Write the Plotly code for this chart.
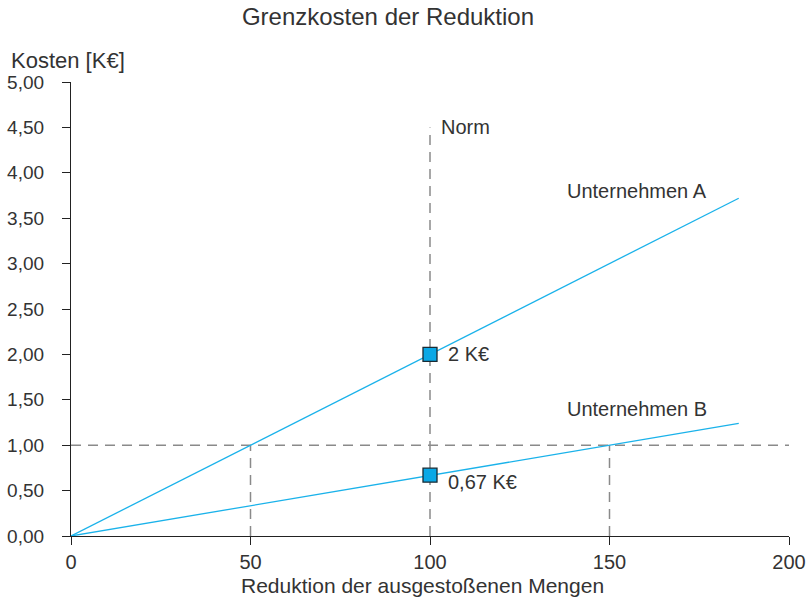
import plotly.graph_objects as go

# Data
x_line = [0, 186]
cost_a = [0, 3.72]
cost_b = [0, 1.24]
norm_x = 100
norm_top = 4.5
target_cost = 1.0
x_at_target = [50, 150]
marker_x = [100, 100]
marker_y = [2.0, 0.67]
marker_labels = ["2 K€", "0,67 K€"]
x_ticks = [0, 50, 100, 150, 200]
y_ticks = [0, 0.5, 1, 1.5, 2, 2.5, 3, 3.5, 4, 4.5, 5]

FONT = "Liberation Sans"
TXT = "#333333"
BLUE = "#1ab2ea"
DASH = "#8a8a8a"

fig = go.Figure()

dash_style = dict(color=DASH, width=1.5, dash="10px,7px")
fig.add_trace(go.Scatter(x=[0, 200], y=[target_cost, target_cost], mode="lines",
                         line=dash_style, hoverinfo="skip"))
fig.add_trace(go.Scatter(x=[norm_x, norm_x], y=[0, norm_top], mode="lines",
                         line=dash_style, hoverinfo="skip"))
for xv in x_at_target:
    fig.add_trace(go.Scatter(x=[xv, xv], y=[0, target_cost], mode="lines",
                             line=dash_style, hoverinfo="skip"))

fig.add_trace(go.Scatter(x=x_line, y=cost_a, mode="lines", line=dict(color=BLUE, width=1.3)))
fig.add_trace(go.Scatter(x=x_line, y=cost_b, mode="lines", line=dict(color=BLUE, width=1.3)))

fig.add_trace(go.Scatter(x=marker_x, y=marker_y, mode="markers",
                         marker=dict(symbol="square", size=14, color="#0aa8e6",
                                     line=dict(color="#1a2a33", width=1.3))))

FS = 20
ann_font = dict(family=FONT, size=FS, color=TXT)
annotations = [
    dict(x=norm_x + 2.5, y=norm_top, text="Norm", showarrow=False, xanchor="left",
         yanchor="middle", font=ann_font),
    dict(x=137.5, y=3.80, text="Unternehmen A", showarrow=False, xanchor="left",
         yanchor="middle", font=ann_font),
    dict(x=137.5, y=1.40, text="Unternehmen B", showarrow=False, xanchor="left",
         yanchor="middle", font=ann_font),
    dict(x=marker_x[0] + 4.5, y=marker_y[0], text=marker_labels[0], showarrow=False,
         xanchor="left", yanchor="middle", font=ann_font),
    dict(x=marker_x[1] + 4.5, y=marker_y[1] - 0.075, text=marker_labels[1], showarrow=False,
         xanchor="left", yanchor="middle", font=ann_font),
    dict(xref="paper", yref="paper", x=-0.086, y=1.048, text="Kosten [K€]", showarrow=False,
         xanchor="left", yanchor="middle", font=dict(family=FONT, size=22, color=TXT)),
    dict(xref="paper", yref="paper", x=0.489, y=-0.110, text="Reduktion der ausgestoßenen Mengen",
         showarrow=False, xanchor="center", yanchor="middle",
         font=dict(family=FONT, size=21, color=TXT)),
]

fig.update_layout(
    width=811, height=599,
    margin=dict(l=71, r=22, t=82, b=63, autoexpand=False),
    paper_bgcolor="white", plot_bgcolor="white",
    showlegend=False,
    separators=",.",
    title=dict(text="Grenzkosten der Reduktion", x=0.4784, xanchor="center", y=0.9716,
               yanchor="middle", font=dict(family=FONT, size=24, color=TXT)),
    font=dict(family=FONT, size=FS, color=TXT),
    annotations=annotations,
)
fig.update_xaxes(range=[0, 200], tickvals=x_ticks, showgrid=False, zeroline=False,
                 automargin=False, ticklabeloverflow="allow",
                 showline=True, linecolor="#222222", linewidth=1.3,
                 ticks="outside", ticklen=8, tickcolor="#222222", tickwidth=1,
                 tickfont=dict(family=FONT, size=FS, color=TXT))
fig.update_yaxes(range=[0, 5], tickvals=y_ticks, tickformat=".2f", showgrid=False,
                 automargin=False,
                 zeroline=False, showline=True, linecolor="#222222", linewidth=1.3,
                 ticks="outside", ticklen=8, tickcolor="#222222", tickwidth=1,
                 ticklabelstandoff=14,
                 tickfont=dict(family=FONT, size=19, color=TXT))

fig.write_html(
    "out.html",
    config={"displayModeBar": False},
    post_script="document.body.style.margin='0';document.body.style.overflow='hidden';",
)
